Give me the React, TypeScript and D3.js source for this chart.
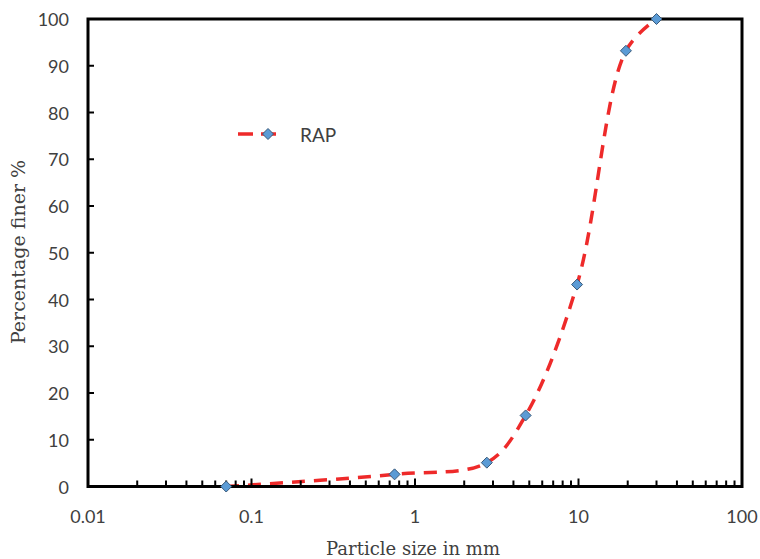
import React from "react";
import * as d3 from "d3";

const sizes = [0.07, 0.75, 2.75, 4.75, 9.8, 19.5, 30];
const finer = [0, 2.6, 5.1, 15.2, 43.2, 93.2, 100];
const xTicks = [0.01, 0.1, 1, 10, 100];
const yTicks = [0, 10, 20, 30, 40, 50, 60, 70, 80, 90, 100];
const seriesName = "RAP";

const W = 760, H = 559;
const M = { left: 88, right: 742, top: 19, bottom: 486.5 };

export default function App() {
  const x = d3.scaleLog().domain([0.01, 100]).range([M.left, M.right]);
  const y = d3.scaleLinear().domain([0, 100]).range([M.bottom, M.top]);
  const pts: [number, number][] = sizes.map((s, i) => [x(s), y(finer[i])]);
  const line = d3.line().curve(d3.curveCatmullRom.alpha(0.5));
  const minor: number[] = [];
  for (let d = 0.01; d < 100; d *= 10) for (let k = 2; k <= 9; k++) minor.push(d * k);
  const diamond = (cx: number, cy: number, r = 5.5) =>
    `M${cx},${cy - r}L${cx + r},${cy}L${cx},${cy + r}L${cx - r},${cy}Z`;
  const tickFont = "Lato, 'Open Sans', sans-serif";
  return (
    <svg width={W} height={H} style={{ position: "absolute", left: 0, top: 0, background: "#fff" }}>
      <path d={line(pts) || ""} fill="none" stroke="#ee2a2a" strokeWidth={3.5} strokeDasharray="13,9" />
      {minor.map((m, i) => (
        <line key={"mi" + i} x1={x(m)} x2={x(m)} y1={M.bottom} y2={M.bottom - 6} stroke="#000" strokeWidth={2} />
      ))}
      {xTicks.map((t, i) => (
        <g key={"xt" + i}>
          <line x1={x(t)} x2={x(t)} y1={M.bottom} y2={M.bottom - 8} stroke="#000" strokeWidth={2} />
          <text x={x(t)} y={516} textAnchor="middle" dominantBaseline="central" fontFamily={tickFont} fontSize={18} fill="#404040">
            {t}
          </text>
        </g>
      ))}
      {yTicks.map((t, i) => (
        <g key={"yt" + i}>
          <line x1={M.left} x2={M.left + 6} y1={y(t)} y2={y(t)} stroke="#000" strokeWidth={2} />
          <text x={69} y={y(t)} textAnchor="end" dominantBaseline="central" fontFamily={tickFont} fontSize={18} fill="#404040">
            {t}
          </text>
        </g>
      ))}
      <rect x={M.left} y={M.top} width={M.right - M.left} height={M.bottom - M.top} fill="none" stroke="#000" strokeWidth={3} />
      {pts.map((p, i) => (
        <path key={"p" + i} d={diamond(p[0], p[1])} fill="#5b9bd5" stroke="#3a5a7a" strokeWidth={1} />
      ))}
      <line x1={238} x2={281} y1={134} y2={134} stroke="#ee2a2a" strokeWidth={3.5} strokeDasharray="15,8" />
      <path d={diamond(268, 134)} fill="#5b9bd5" stroke="#3a5a7a" strokeWidth={1} />
      <text x={300} y={134} dominantBaseline="central" fontFamily={tickFont} fontSize={19} fill="#404040">
        {seriesName}
      </text>
      <text x={413} y={548} textAnchor="middle" dominantBaseline="central" fontFamily="'DejaVu Serif', serif" fontSize={18} fill="#404040">
        Particle size in mm
      </text>
      <text transform="translate(18,252) rotate(-90)" textAnchor="middle" dominantBaseline="central" fontFamily="'DejaVu Serif', serif" fontSize={19} fill="#404040">
        Percentage finer %
      </text>
    </svg>
  );
}
